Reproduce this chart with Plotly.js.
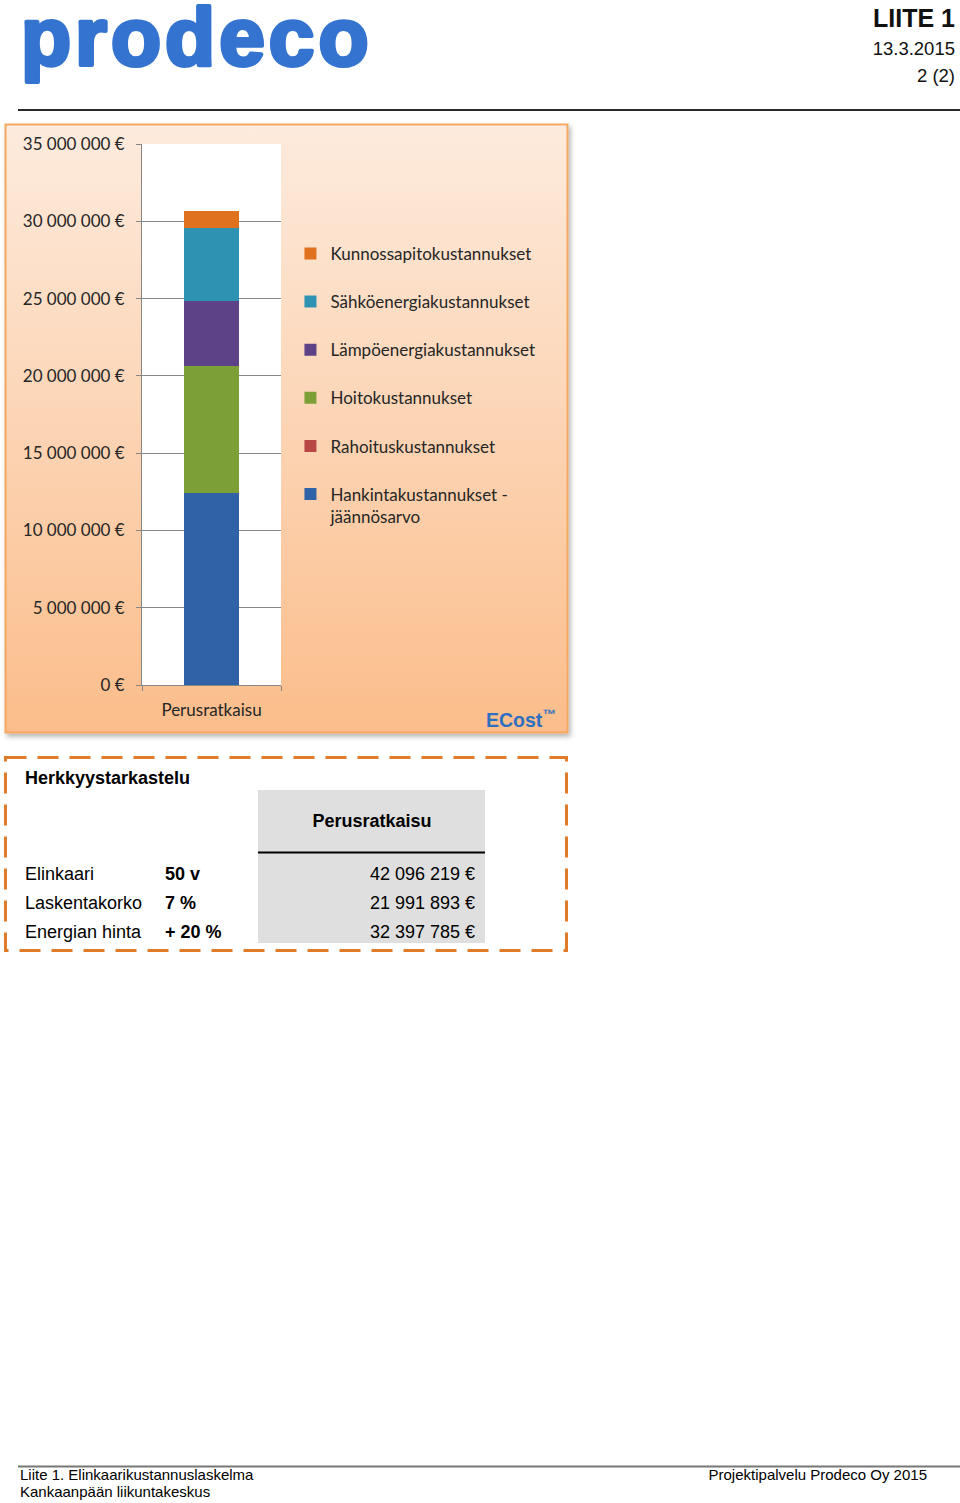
<!DOCTYPE html>
<html>
<head>
<meta charset="utf-8">
<script src="https://cdn.plot.ly/plotly-3.0.1.min.js"></script>
<style>
  html, body { margin:0; padding:0; background:#ffffff; }
  body { width:960px; height:1503px; position:relative; overflow:hidden; font-family:"Liberation Sans", Arial, sans-serif; }
  #page { position:absolute; left:0; top:0; }
  #chart { position:absolute; left:5px; top:124px; width:563px; height:609px; }
</style>
</head>
<body>
<svg id="page" width="960" height="1503" xmlns="http://www.w3.org/2000/svg">
  <defs>
    <linearGradient id="bg" x1="0" y1="0" x2="0" y2="1">
      <stop offset="0" stop-color="#fdebdd"/>
      <stop offset="1" stop-color="#fbbd8b"/>
    </linearGradient>
    <filter id="sh" x="-5%" y="-5%" width="115%" height="115%">
      <feDropShadow dx="2" dy="3" stdDeviation="2.5" flood-color="#000" flood-opacity="0.3"/>
    </filter>
  </defs>
  <!-- logo -->
  <text x="21" y="65" font-family="Liberation Sans, Arial" font-weight="bold" font-size="82" fill="#3474d0" stroke="#3474d0" stroke-width="4" stroke-linejoin="round" letter-spacing="4">prodeco</text>
  <!-- header right -->
  <text x="955" y="27" text-anchor="end" font-family="Liberation Sans, Arial" font-weight="bold" font-size="25" fill="#111">LIITE 1</text>
  <text x="955" y="55" text-anchor="end" font-family="Liberation Sans, Arial" font-size="18.5" fill="#111">13.3.2015</text>
  <text x="955" y="82" text-anchor="end" font-family="Liberation Sans, Arial" font-size="18.5" fill="#111">2 (2)</text>
  <line x1="18" y1="110" x2="960" y2="110" stroke="#2a2a2a" stroke-width="2"/>
  <!-- chart box -->
  <rect x="5.5" y="124.5" width="562" height="608" fill="url(#bg)" stroke="#f6a862" stroke-width="2" filter="url(#sh)"/>
  <!-- sensitivity box -->
  <rect x="5.5" y="757.5" width="561" height="193" fill="none" stroke="#e07b2a" stroke-width="3" stroke-dasharray="21 11"/>
  <rect x="258" y="790" width="227" height="153" fill="#dfdfdf"/>
  <line x1="258" y1="852.5" x2="485" y2="852.5" stroke="#000" stroke-width="2"/>
  <text x="25" y="784" font-family="Liberation Sans, Arial" font-weight="bold" font-size="18" fill="#000">Herkkyystarkastelu</text>
  <text id="colhead" x="372" y="827" text-anchor="middle" font-family="Liberation Sans, Arial" font-weight="bold" font-size="18" fill="#000">Perusratkaisu</text>
  <g id="rows"></g>
  <!-- footer -->
  <line x1="18" y1="1466.5" x2="960" y2="1466.5" stroke="#777" stroke-width="2"/>
  <text x="20" y="1480" font-family="Liberation Sans, Arial" font-size="15" fill="#000">Liite 1. Elinkaarikustannuslaskelma</text>
  <text x="20" y="1497" font-family="Liberation Sans, Arial" font-size="15" fill="#000">Kankaanpään liikuntakeskus</text>
  <text x="927" y="1480" text-anchor="end" font-family="Liberation Sans, Arial" font-size="15" fill="#000">Projektipalvelu Prodeco Oy 2015</text>
</svg>
<div id="chart"></div>
<script>
// ---- chart data ----
const categories = ['Perusratkaisu'];
const seriesNames = [
  'Hankintakustannukset -<br>jäännösarvo',
  'Rahoituskustannukset',
  'Hoitokustannukset',
  'Lämpöenergiakustannukset',
  'Sähköenergiakustannukset',
  'Kunnossapitokustannukset'
];
const hankinta = [12430000];
const rahoitus = [0];
const hoito = [8220000];
const lampo = [4210000];
const sahko = [4730000];
const kunnossapito = [1100000];
const yTickVals = [0, 5000000, 10000000, 15000000, 20000000, 25000000, 30000000, 35000000];
const yTickText = ['0 €', '5 000 000 €', '10 000 000 €', '15 000 000 €', '20 000 000 €', '25 000 000 €', '30 000 000 €', '35 000 000 €'];

// ---- sensitivity table data ----
const sensColumn = 'Perusratkaisu';
const sensLabels = ['Elinkaari', 'Laskentakorko', 'Energian hinta'];
const sensParams = ['50 v', '7 %', '+ 20 %'];
const sensValues = ['42 096 219 €', '21 991 893 €', '32 397 785 €'];

// ---- styles ----
const seriesColors = ['#2f62a6', '#b94744', '#7d9f37', '#5e4288', '#2e93b3', '#e0711f'];
const allValues = [hankinta, rahoitus, hoito, lampo, sahko, kunnossapito];

// table text
document.getElementById('colhead').textContent = sensColumn;
const rowsG = document.getElementById('rows');
const ns = 'http://www.w3.org/2000/svg';
const rowY = [880, 909, 938];
function addText(x, y, s, anchor, bold) {
  const t = document.createElementNS(ns, 'text');
  t.setAttribute('x', x); t.setAttribute('y', y);
  t.setAttribute('font-family', 'Liberation Sans, Arial');
  t.setAttribute('font-size', '18');
  t.setAttribute('fill', '#000');
  if (anchor) t.setAttribute('text-anchor', anchor);
  if (bold) t.setAttribute('font-weight', 'bold');
  t.textContent = s;
  rowsG.appendChild(t);
}
sensLabels.forEach((l, i) => {
  addText(25, rowY[i], l, null, false);
  addText(165, rowY[i], sensParams[i], null, true);
  addText(475, rowY[i], sensValues[i], 'end', false);
});

const traces = seriesNames.map((n, i) => ({
  type: 'bar',
  x: categories,
  y: allValues[i],
  name: n,
  legendgroup: 'g' + i,
  legendrank: seriesNames.length - i,
  marker: { color: seriesColors[i], line: { width: 0 } },
  hoverinfo: 'skip'
}));

const font = { family: 'Lato, "Open Sans", sans-serif', size: 17, color: '#262626' };
const layout = {
  width: 563, height: 609,
  margin: { l: 137, r: 287, t: 20, b: 48, pad: 0 },
  paper_bgcolor: 'rgba(0,0,0,0)',
  plot_bgcolor: '#ffffff',
  barmode: 'stack',
  bargap: 0.6,
  font: font,
  showlegend: true,
  legend: {
    x: 1.068, xanchor: 'left', y: 0.83, yanchor: 'top',
    traceorder: 'grouped',
    tracegroupgap: 23,
    valign: 'top',
    bgcolor: 'rgba(0,0,0,0)',
    font: font,
    itemclick: false
  },
  xaxis: {
    type: 'category',
    showline: true, linecolor: '#868686', linewidth: 1,
    ticks: 'outside', tickson: 'boundaries', ticklen: 5, tickcolor: '#868686',
    showgrid: false, zeroline: false,
    tickfont: font, ticklabelstandoff: 10, fixedrange: true
  },
  yaxis: {
    range: [0, 35000000],
    tickvals: yTickVals, ticktext: yTickText,
    showline: true, linecolor: '#868686', linewidth: 1,
    ticks: 'outside', ticklen: 5, tickcolor: '#868686',
    showgrid: true, gridcolor: '#868686', gridwidth: 1,
    zeroline: false,
    tickfont: font, ticklabelstandoff: 8, fixedrange: true
  },
  annotations: [{
    xref: 'paper', yref: 'paper', x: 2.73, y: -0.063,
    xanchor: 'center', yanchor: 'middle', showarrow: false,
    text: '<b>ECost<sup>™</sup></b>',
    font: { family: '"Liberation Sans", Arial, sans-serif', size: 19.5, color: '#2d6fc1' }
  }]
};

Plotly.newPlot('chart', traces, layout, { displayModeBar: false, staticPlot: true });
</script>
</body>
</html>
